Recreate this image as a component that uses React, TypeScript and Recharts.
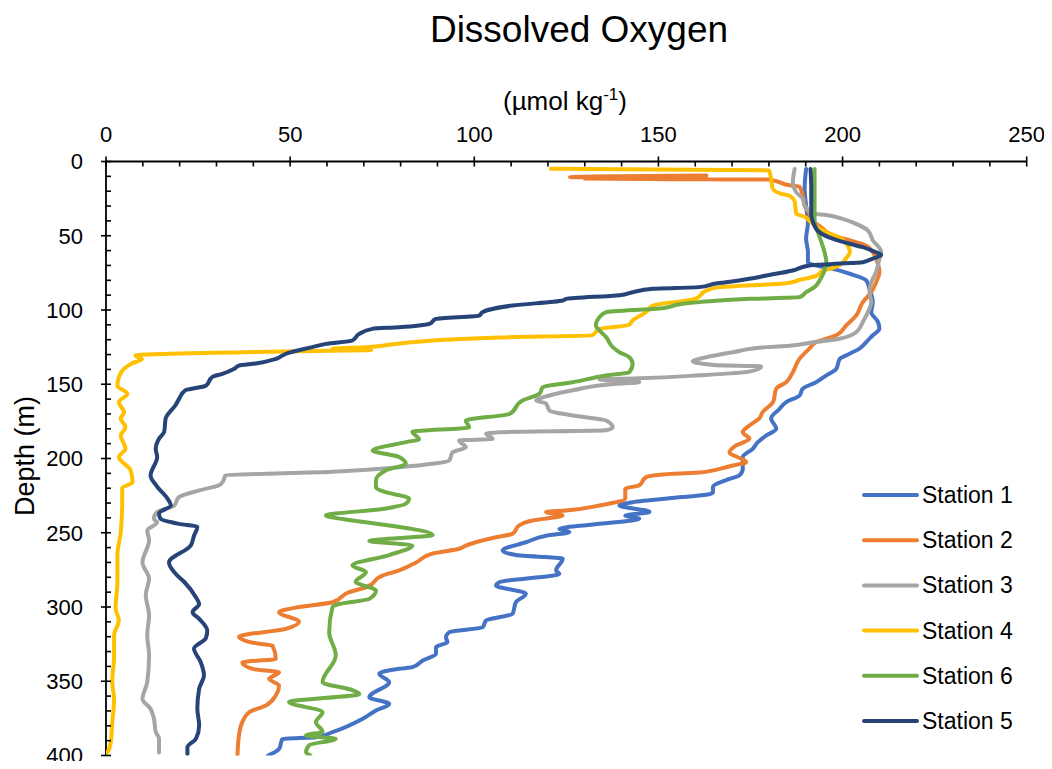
import React from "react";
import { ScatterChart, Scatter, XAxis, YAxis, Legend } from "recharts";

// dissolved oxygen (umol/kg) vs depth (m)
const station1: [number, number][] = [
  [190.1, 5], [189.7, 18], [190.1, 30], [190.6, 41], [190.1, 52], [190.6, 61], [190.6, 68], [192.8, 70],
  [197.4, 72.3], [201.9, 75.6], [206.4, 80], [207.3, 85.7], [208.2, 94.7], [207.8, 101.5], [209.6, 108],
  [210, 112.7], [208.2, 117], [206.4, 121.7], [204.6, 126], [201.9, 129.5], [199.2, 133], [198.3, 139.6],
  [195.6, 144], [192.8, 148.6], [189.2, 153], [188.3, 157.6], [184.7, 162], [182.9, 166.5], [180.6, 173],
  [182, 180], [179.3, 184.5], [177, 189], [175.6, 193.5], [172.9, 199], [172.9, 207], [172, 211.4],
  [169.3, 213.7], [164.8, 219.3], [164.8, 222.7], [163.9, 224], [156.6, 226], [143, 229.4], [139.4, 231.6],
  [147.6, 236], [141, 238.4], [144.8, 240.6], [134, 244], [123.1, 247.4], [125.8, 249.6], [119.5, 252],
  [114, 256.4], [107.7, 262], [111.3, 265], [124, 267.5], [122.2, 275.4], [123.1, 277.7], [106.8, 283.3],
  [105.9, 285.5], [114, 291], [111.3, 296.8], [110.4, 304.6], [103.2, 309], [102.3, 313.6], [93.2, 317],
  [92.3, 320.3], [92.7, 323.7], [89.6, 327], [89.6, 331.5], [86, 336], [83.2, 340.5], [79.6, 341.6],
  [74.2, 345], [76.9, 350.6], [71.5, 360.7], [76.9, 365.3], [73.3, 369.7], [69.7, 375.3], [61.5, 384.3],
  [57, 387.7], [47.9, 388.8], [47, 395.5], [44, 400],
];

const station2: [number, number][] = [
  [163, 9.5], [126, 10.5], [163, 11], [130, 11.5], [162, 12], [180, 12.2], [185.6, 16], [188.3, 17],
  [189.2, 23], [189.7, 29.6], [191, 35], [192.4, 41], [194.6, 45], [197.4, 50], [201.9, 53], [206.4, 56.6],
  [208.2, 61], [209.1, 65.5], [210, 74.5], [209.1, 81.3], [207.8, 88], [205.5, 94.7], [203.7, 103.7],
  [201, 110.4], [198.3, 117], [192.8, 121.7], [191, 126], [188.3, 132.9], [186.5, 141.9], [184.7, 148.6],
  [182, 153], [181.1, 162], [178.3, 168.8], [177.4, 173], [174.7, 177.8], [172.9, 182.3], [174.7, 186.7],
  [171.1, 191.2], [169.3, 195.8], [173.8, 202.5], [170.2, 204.7], [166.6, 207], [161.1, 209.5],
  [153.9, 210.3], [146.6, 212.6], [144.8, 218], [141, 220.4], [141, 227], [134, 231.6], [124.9, 235],
  [119.5, 236], [124, 238.4], [115.8, 241.7], [112.2, 245], [110.4, 250.7], [105.9, 253], [97.7, 258.6],
  [95.9, 260.8], [88.7, 264], [84.2, 270], [79.6, 275.4], [75.1, 278.8], [70.6, 286.7], [66, 290],
  [61.5, 296.8], [52.4, 300], [47, 303.5], [52.4, 310], [48.8, 314.7], [36.1, 320], [41.6, 324.8],
  [45.2, 326], [46.1, 335], [37, 337.2], [39.8, 341.7], [47, 344], [44.3, 348.4], [47, 352.9],
  [46.1, 359.6], [43.4, 366.3], [38.9, 370.8], [37, 377.6], [36.1, 386.5], [35.7, 400],
];

const station3: [number, number][] = [
  [187, 5], [186.5, 14], [187.4, 20.7], [189.2, 25], [189.7, 29.6], [192, 35], [195.6, 36], [200, 38.6],
  [204.6, 43], [206.9, 46.5], [208.2, 53], [210.5, 61], [210, 65.5], [209.1, 74.5], [207.8, 81.3],
  [207.3, 88], [207.8, 94.7], [207.3, 99], [205.5, 108], [203.7, 115], [199.2, 119.4], [192, 121.7],
  [185.6, 124], [179.3, 125], [170.2, 128.4], [161.1, 132.9], [159.3, 134.5], [165, 137], [177.9, 138],
  [174.7, 141.5], [161.1, 144], [144.8, 146], [134, 146.8], [144.8, 148.6], [138.5, 149.7],
  [126.7, 154], [120.4, 157.6], [116.8, 161], [119.5, 163], [120.4, 167.7], [126.7, 171], [135.8, 174.4],
  [137.6, 179], [135.8, 181], [106.8, 182.3], [103.2, 183.4], [105, 186.7], [95.9, 187.9], [97.7, 192.4],
  [94.1, 195.8], [93.2, 201.3], [88.6, 203.6], [79.6, 205.9], [61.5, 209], [32.5, 211.4], [31.6, 216],
  [30.7, 218], [25.3, 221.5], [19.8, 226], [18.5, 231.6], [13.9, 236], [13, 240.6], [13.9, 243],
  [11.2, 248.5], [11.7, 255], [9.9, 270], [11.7, 281], [10.8, 292], [11.7, 305.7], [11.2, 319],
  [11.7, 332.6], [11.2, 350.6], [9.9, 362], [12.1, 368.6], [13, 375], [13.5, 384], [14.4, 388.8],
  [14.4, 398],
];

const station4: [number, number][] = [
  [120.8, 4.9], [180, 6], [180.6, 11.6], [181, 18], [183, 21.5], [185.6, 23], [187, 27], [187.4, 35],
  [190, 37.5], [191, 40], [193, 44], [195.6, 47.6], [199, 51], [201, 55], [202, 61], [201, 65], [199, 70],
  [197, 72], [194.6, 73.4], [193, 76.8], [188, 80], [184.7, 82], [166.6, 84.6], [163, 87], [160, 92.5],
  [148.5, 97], [146.6, 101.5], [143, 107], [142, 110], [134, 112.7], [132, 117], [106.8, 118.5],
  [79.6, 122.5], [70.6, 125], [61.5, 126], [72, 127], [60, 127.5], [10.8, 130], [8, 130.7], [9.8, 133],
  [7, 136], [4.9, 139.6], [3.5, 145], [3.1, 151], [5.8, 156.4], [3.5, 162], [4.9, 169], [4, 173],
  [5.3, 179], [4, 184.5], [5.3, 193.5], [3.5, 199], [6.7, 208], [7.2, 216], [4.4, 220], [4.4, 229],
  [4, 249.6], [3.1, 265], [3.1, 283], [2.6, 301], [3.5, 309], [2.2, 319], [2.2, 332.6], [1.7, 350.6],
  [2.2, 362], [1.7, 377.6], [1.3, 391], [0.4, 397.8], [0, 399],
];

const station6: [number, number][] = [
  [192.4, 5], [192.4, 18], [192.4, 30], [192.4, 41], [193.3, 47.6], [194.2, 54], [195.1, 61], [195.6, 67.8],
  [195.1, 73.4], [193.8, 80], [192.4, 84.6], [190.1, 88], [188.3, 91.4], [174.7, 92.5], [161.1, 94.7],
  [156.6, 95.8], [150.3, 99], [135.8, 101.5], [134, 104.9], [133, 110.4], [134, 113.8], [135.8, 118.3],
  [137.6, 125], [139.4, 128.4], [142.1, 131.8], [143, 136.2], [142.1, 141.9], [135.8, 144.1],
  [126.7, 148.6], [118.6, 152], [117.7, 156.4], [113.1, 161], [109.5, 170], [97.7, 174.4], [98.6, 179],
  [83.2, 182], [85, 187], [81.4, 189], [72.4, 194.6], [79.6, 199], [81.4, 203.6], [76, 208], [73.3, 214.8],
  [73.3, 219.3], [76, 222.7], [82.3, 227], [81.4, 230.5], [75.1, 234], [59.7, 238.4], [66.9, 241.7],
  [70.6, 243], [88.7, 251.5], [71.5, 255.5], [83.2, 258.6], [76.9, 265], [66.9, 272], [70.6, 276.5],
  [67.8, 283], [73.3, 289], [71.5, 294.5], [63.3, 298], [61.5, 300], [60.6, 317], [62.4, 332.6],
  [58.8, 350.6], [66.9, 356], [68.8, 358.6], [49.7, 364], [58.8, 370.8], [57, 377.6], [58.8, 384],
  [54.3, 386.5], [62.4, 388.8], [55.2, 393], [54.3, 397.8], [55.5, 400],
];

const station5: [number, number][] = [
  [191.3, 5], [191.5, 18], [191.5, 36], [192, 41], [193.7, 47.6], [197.3, 52], [201.9, 55.4], [205.5, 57.7],
  [208, 60], [210.5, 63], [208, 65.5], [205.5, 67.8], [197.4, 69], [191, 70], [186.5, 73.4], [179.3, 76.8],
  [174.7, 79], [168.4, 81.3], [166, 82], [161, 84.6], [148.5, 85.7], [143, 88], [139.4, 90], [125, 92.5],
  [124, 93.6], [110.4, 97], [102.2, 101.5], [101.4, 103.7], [89.6, 106], [87.8, 109.3], [85, 110.4],
  [79.6, 111.6], [72.3, 112.7], [68.8, 116], [66.9, 120.5], [59.7, 122.8], [56, 125], [48.8, 129.5],
  [46.1, 133], [40.7, 136], [36.1, 137.4], [34.8, 139.6], [31.6, 143], [28.9, 145], [27.1, 151],
  [21.6, 154], [19.8, 160], [18.9, 164], [16.2, 173], [15.8, 182], [14.4, 186.7], [13.5, 193.5],
  [13.9, 199], [12.1, 211.4], [13.9, 219], [16.7, 227], [17.6, 231.6], [14.4, 237], [14.8, 240.6],
  [19.8, 244], [24.8, 246], [23.9, 252], [23, 258.6], [17.1, 270], [18.9, 277.6], [21.2, 283],
  [24.4, 293.4], [25.3, 298], [23.5, 303.5], [25.3, 308], [27.5, 316], [27.1, 321], [23.9, 328],
  [25.7, 337], [26.6, 346], [25.3, 355], [24.8, 368.6], [25.3, 379.8], [24.4, 388.8], [22.1, 394.4],
  [22.1, 399],
];

// every 10 units gets a tick, only multiples of 50 get a label
const xTicks = [
  0, 10, 20, 30, 40, 50, 60, 70, 80, 90, 100, 110, 120, 130, 140, 150, 160, 170, 180, 190, 200, 210, 220,
  230, 240, 250,
];
const yTicks = [
  0, 10, 20, 30, 40, 50, 60, 70, 80, 90, 100, 110, 120, 130, 140, 150, 160, 170, 180, 190, 200, 210, 220,
  230, 240, 250, 260, 270, 280, 290, 300, 310, 320, 330, 340, 350, 360, 370, 380, 390, 400,
];

const series = [
  { name: "Station 1", points: station1, color: "#4472C4" },
  { name: "Station 2", points: station2, color: "#ED7D31" },
  { name: "Station 3", points: station3, color: "#A5A5A5" },
  { name: "Station 4", points: station4, color: "#FFC000" },
  { name: "Station 6", points: station6, color: "#70AD47" },
  { name: "Station 5", points: station5, color: "#264478" },
];

const FONT = "'Liberation Sans', Arial, sans-serif";
const W = 1036;
const H = 761;

const NoDot = () => <g />;

// tick mark + label; majors cross the axis, minors only point into the plot
const XTick = (props: any) => {
  const { x, y, payload } = props;
  const major = payload.value % 50 === 0;
  return (
    <g>
      <line x1={x} x2={x} y1={major ? y - 5 : y} y2={y + 5} stroke="#000" strokeWidth={1.6} />
      {major && (
        <text x={x} y={y - 20} textAnchor="middle" fontSize={22} fontFamily={FONT} fill="#000">
          {payload.value}
        </text>
      )}
    </g>
  );
};

const YTick = (props: any) => {
  const { x, y, payload } = props;
  const major = payload.value % 50 === 0;
  return (
    <g>
      <line x1={major ? x - 5 : x} x2={x + 5} y1={y} y2={y} stroke="#000" strokeWidth={1.6} />
      {major && (
        <text x={x - 23} y={y + 7.8} textAnchor="end" fontSize={22} fontFamily={FONT} fill="#000">
          {payload.value}
        </text>
      )}
    </g>
  );
};

// legend keeps the plotting order (Recharts would sort it by name)
const LegendBox = () => (
  <svg width={180} height={270} style={{ display: "block" }}>
    {series.map((s, i) => {
      const y = 25 + i * 45.2;
      return (
        <g key={s.name}>
          <line x1={9} x2={62} y1={y} y2={y} stroke={s.color} strokeWidth={4} strokeLinecap="round" />
          <text x={67} y={y + 8} fontSize={23} fontFamily={FONT} fill="#000">
            {s.name}
          </text>
        </g>
      );
    })}
  </svg>
);

export default function App() {
  return (
    <div style={{ position: "relative", width: W, height: H, marginBottom: -8 }}>
      <ScatterChart width={W} height={H} margin={{ top: 113.5, right: 17.3, bottom: 13.5, left: 38 }}>
        <XAxis
          type="number"
          dataKey="o"
          orientation="top"
          domain={[0, 250]}
          ticks={xTicks}
          interval={0}
          height={40}
          allowDataOverflow
          stroke="#000"
          strokeWidth={1.8}
          tickLine={false}
          tickSize={0}
          tickMargin={0}
          tick={XTick}
        />
        <YAxis
          type="number"
          dataKey="d"
          reversed
          domain={[0, 400]}
          ticks={yTicks}
          interval={0}
          width={60}
          allowDataOverflow
          stroke="#000"
          strokeWidth={1.8}
          tickLine={false}
          tickSize={0}
          tickMargin={0}
          tick={YTick}
        />
        {series.map((s) => (
          <Scatter
            key={s.name}
            name={s.name}
            data={s.points.map(([o, d]) => ({ o, d }))}
            fill={s.color}
            line={{ stroke: s.color, strokeWidth: 4, strokeLinejoin: "round", strokeLinecap: "round" }}
            lineJointType="monotoneY"
            shape={NoDot}
            legendType="line"
            isAnimationActive={false}
          />
        ))}
        <Legend
          layout="vertical"
          align="center"
          verticalAlign="middle"
          content={LegendBox}
          wrapperStyle={{ left: 847, top: 462, width: 180 }}
        />
      </ScatterChart>
      <svg
        width={W}
        height={H}
        style={{ position: "absolute", left: 0, top: 0, pointerEvents: "none" }}
      >
        <text x={571} y={34} textAnchor="middle" fontSize={37} fontFamily={FONT} fill="#000">
          Dissolved Oxygen
        </text>
        <text x={557} y={102} textAnchor="middle" fontSize={26} fontFamily={FONT} fill="#000">
          (µmol kg<tspan dy={-10} fontSize={17}>-1</tspan>
          <tspan dy={10}>)</tspan>
        </text>
        <text
          x={0}
          y={0}
          transform="translate(26, 448) rotate(-90)"
          textAnchor="middle"
          fontSize={27}
          fontFamily={FONT}
          fill="#000"
        >
          Depth (m)
        </text>
      </svg>
    </div>
  );
}
